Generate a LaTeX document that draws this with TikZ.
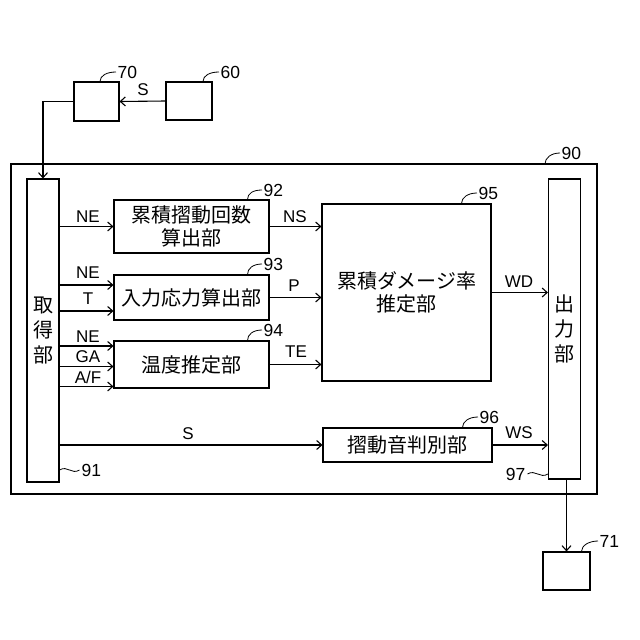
\documentclass[tikz,border=0pt]{standalone}
\usepackage{fontspec}
\setmainfont{Liberation Sans}
\newfontfamily\jp{Noto Sans CJK JP}
\usetikzlibrary{arrows.meta,calc}
\begin{document}
\begin{tikzpicture}[x=1pt,y=-1pt, line width=1.1pt,
 box/.style={draw, rectangle, inner sep=0pt, anchor=center},
 arr/.style={-{Straight Barb[length=5pt,width=9pt]}},
 jt/.style={font=\jp\fontsize{20}{23}\selectfont, align=center},
 jv/.style={font=\jp\fontsize{20}{25}\selectfont, align=center},
 lab/.style={font=\fontsize{17}{19}\selectfont, inner sep=0pt},
 num/.style={font=\fontsize{17.5}{19}\selectfont, inner sep=0pt, anchor=west},
]
\fill[white] (0,0) rectangle (640,640);
\useasboundingbox (0,0) rectangle (640,640);

% outer
\node[box, minimum width=586pt, minimum height=330pt] (b90) at (304,329) {};
% blocks
\node[box, minimum width=45pt, minimum height=39pt] (b70) at (96.5,101.5) {};
\node[box, minimum width=46pt, minimum height=38pt] (b60) at (189,101) {};
\node[box, minimum width=32pt, minimum height=303pt] (acq) at (43,330.5) {};
\node[jv] at (acq) {取\\得\\部};
\node[box, minimum width=155pt, minimum height=53pt, jt] (b92) at (191.5,226.5) {累積摺動回数\\算出部};
\node[box, minimum width=155pt, minimum height=45pt, jt] (b93) at (191.5,297.5) {入力応力算出部};
\node[box, minimum width=155pt, minimum height=47pt, jt] (b94) at (191.5,364.5) {温度推定部};
\node[box, minimum width=169pt, minimum height=177pt, jt] (b95) at (406.5,292.5) {累積ダメージ率\\推定部};
\node[box, minimum width=169pt, minimum height=34pt, jt] (b96) at (407.5,445) {摺動音判別部};
\node[box, minimum width=32pt, minimum height=300pt] (out) at (564.5,329) {};
\node[jv] at (out) {出\\力\\部};
\node[box, minimum width=47pt, minimum height=38pt] (b71) at (566.5,571) {};

% connectors
\draw[arr] (b60.west) -- (b70.east);
\node[lab] (lS1) at (143,90) {S};
\draw[arr] (b70.west) -| (acq.north);

\draw[arr] (acq.east |- b92.west) -- (b92.west);
\node[lab] (lNE1) at (88,217) {NE};

\coordinate (c93a) at ([yshift=12.5pt]b93.west);
\coordinate (c93b) at ([yshift=-13.5pt]b93.west);
\draw[arr] (acq.east |- c93a) -- (c93a);
\draw[arr] (acq.east |- c93b) -- (c93b);
\node[lab] (lNE2) at (88,273) {NE};
\node[lab] (lT) at (88,299) {T};

\coordinate (c94a) at ([yshift=18.5pt]b94.west);
\coordinate (c94b) at ([yshift=-2pt]b94.west);
\coordinate (c94c) at ([yshift=-22pt]b94.west);
\draw[arr] (acq.east |- c94a) -- (c94a);
\draw[arr] (acq.east |- c94b) -- (c94b);
\draw[arr] (acq.east |- c94c) -- (c94c);
\node[lab] (lNE3) at (88,337) {NE};
\node[lab] (lGA) at (88,357) {GA};
\node[lab] (lAF) at (88,377) {A/F};

\draw[arr] (b92.east) -- (b95.west |- b92.east);
\node[lab] (lNS) at (295,217) {NS};
\draw[arr] (b93.east) -- (b95.west |- b93.east);
\node[lab] (lP) at (294,286) {P};
\draw[arr] (b94.east) -- (b95.west |- b94.east);
\node[lab] (lTE) at (296,352) {TE};
\draw[arr] (b95.east) -- (out.west |- b95.east);
\node[lab] (lWD) at (519,282) {WD};

\draw[arr] (acq.east |- b96.west) -- (b96.west);
\node[lab] (lS2) at (188,434) {S};
\draw[arr] (b96.east) -- (out.west |- b96.east);
\node[lab] (lWS) at (519,433) {WS};

\draw[arr] (out.south -| b71.north) -- (b71.north);

% reference numbers
\node[num] (n70) at (117,72) {70};
\node[num] (n60) at (220,72) {60};
\node[num] (n90) at (561,153) {90};
\node[num] (n92) at (263,190) {92};
\node[num] (n93) at (263,264) {93};
\node[num] (n94) at (263,330) {94};
\node[num] (n95) at (478,193) {95};
\node[num] (n96) at (479,417) {96};
\node[num] (n71) at (599,541) {71};
\node[num] (n91) at (81,470) {91};
\node[num, anchor=east] (n97) at (526,474) {97};

\coordinate (t70) at ([xshift=3.5pt]b70.north);
\coordinate (t60) at ([xshift=14pt]b60.north);
\coordinate (t90) at (545,164);
\coordinate (t92) at ([xshift=56pt]b92.north);
\coordinate (t93) at ([xshift=56pt]b93.north);
\coordinate (t94) at ([xshift=56pt]b94.north);
\coordinate (t95) at ([xshift=55pt]b95.north);
\coordinate (t96) at ([xshift=55pt]b96.north);
\coordinate (t71) at ([xshift=15pt]b71.north);
\coordinate (t91) at (acq.east |- n91);
\coordinate (t97) at (out.west |- n97);

\foreach \n/\t in {n70/t70,n60/t60,n90/t90,n92/t92,n93/t93,n94/t94,n95/t95,n96/t96,n71/t71}
  \draw[line width=0.8pt] ([xshift=-1pt]\n.west) .. controls +(-9,0) and +(0,-6) .. (\t);
\draw[line width=0.8pt] (t91) .. controls +(8,-5) and +(-8,5) .. ([xshift=-1.5pt]n91.west);
\draw[line width=0.8pt] ([xshift=1.5pt]n97.east) .. controls +(8,-5) and +(-8,5) .. (t97);
\end{tikzpicture}
\end{document}
